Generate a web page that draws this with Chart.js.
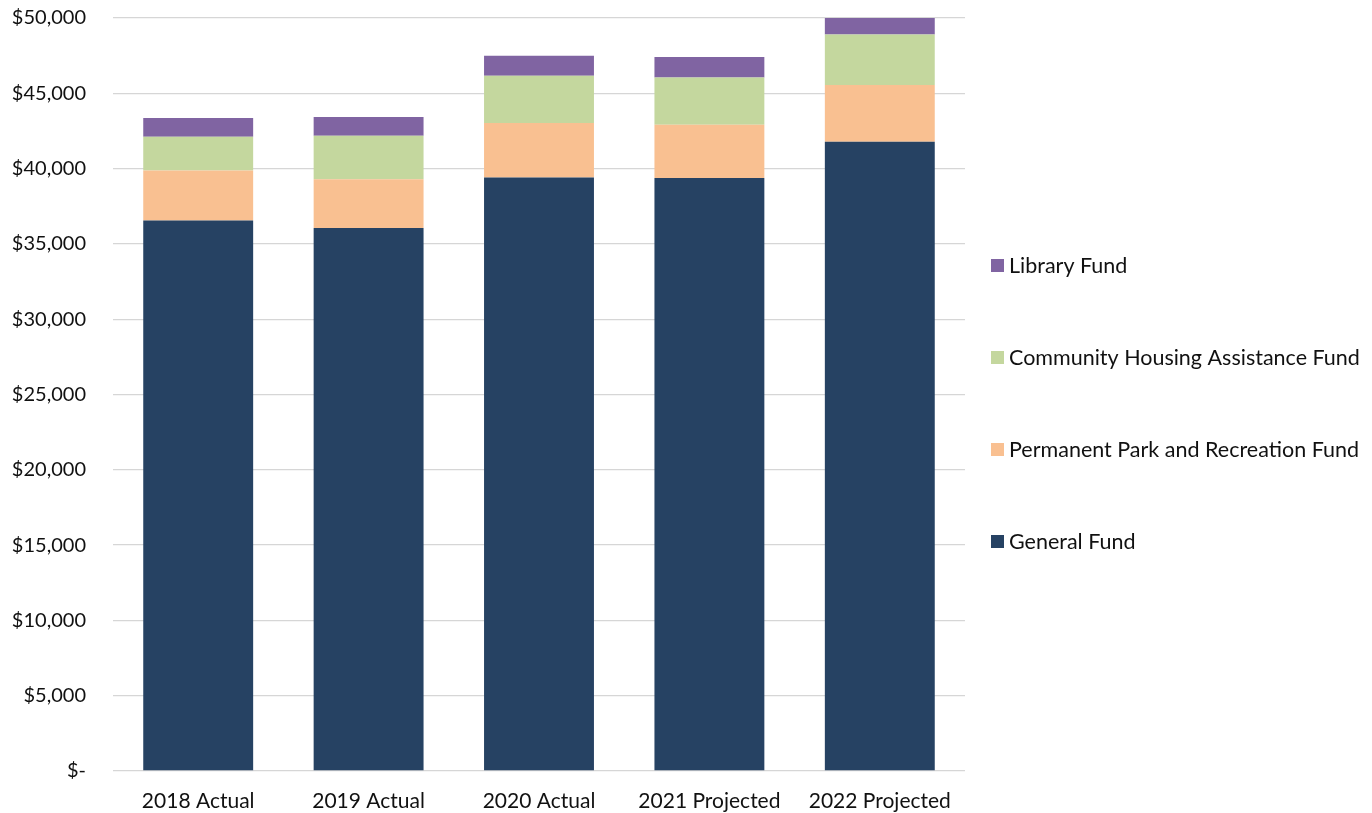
<!DOCTYPE html>
<html>
<head>
<meta charset="utf-8">
<title>Fund Revenue by Year</title>
<script src="https://cdn.jsdelivr.net/npm/chart.js@4"></script>
<style>
    body { margin: 0; background: #fff; }
    #wrap { width: 1372px; height: 813px; }
</style>
</head>
<body>
<div id="wrap"><canvas id="fundChart"></canvas></div>
<script>
/* ==========================================
   DATA
========================================== */

const years = ["2018 Actual", "2019 Actual", "2020 Actual", "2021 Projected", "2022 Projected"];

const generalFund = [36550, 36050, 39410, 39370, 41780];
const parkFund = [3330, 3250, 3610, 3540, 3770];
const housingFund = [2240, 2880, 3150, 3140, 3360];
const libraryFund = [1240, 1240, 1330, 1360, 1090];

const yTicks = [0, 5000, 10000, 15000, 20000, 25000, 30000, 35000, 40000, 45000, 50000];

const FONT = "Lato, 'Open Sans', sans-serif";
const TEXT = "#111";


/* ==========================================
   LEGEND (right side, top series first)
========================================== */

const sideLegend = {
    id: "sideLegend",
    afterDraw(chart) {
        const ctx = chart.ctx;
        const area = chart.chartArea;
        const sets = chart.data.datasets.slice().reverse();
        const middle = (area.top + area.bottom) / 2 + 9;
        const gap = 92;
        const boxX = area.right + 26;

        ctx.save();
        ctx.font = "21.5px " + FONT;
        ctx.textBaseline = "middle";
        ctx.textAlign = "left";

        sets.forEach((ds, i) => {
            const y = middle + (i - (sets.length - 1) / 2) * gap;
            ctx.fillStyle = ds.backgroundColor;
            ctx.fillRect(boxX, y - 6.5, 13, 13);
            ctx.fillStyle = TEXT;
            ctx.fillText(ds.label, boxX + 18, y + 1);
        });

        ctx.restore();
    }
};


/* ==========================================
   STACKED BAR CHART
========================================== */

new Chart(document.getElementById("fundChart"), {

    type: "bar",

    data: {
        labels: years,
        datasets: [
            { label: "General Fund", data: generalFund, backgroundColor: "#264263" },
            { label: "Permanent Park and Recreation Fund", data: parkFund, backgroundColor: "#f9c091" },
            { label: "Community Housing Assistance Fund", data: housingFund, backgroundColor: "#c4d79e" },
            { label: "Library Fund", data: libraryFund, backgroundColor: "#8064a2" }
        ]
    },

    options: {
        responsive: true,
        maintainAspectRatio: false,
        animation: false,

        datasets: {
            bar: {
                barPercentage: 0.645,
                categoryPercentage: 1
            }
        },

        layout: {
            padding: { left: 12, right: 407, top: 18, bottom: 0 }
        },

        plugins: {
            legend: { display: false },
            tooltip: { enabled: false }
        },

        scales: {
            x: {
                stacked: true,
                grid: { display: false },
                border: { display: false },
                ticks: {
                    color: TEXT,
                    padding: 10,
                    font: { family: FONT, size: 21 }
                },
                afterFit(axis) {
                    axis.height = 42;
                }
            },
            y: {
                stacked: true,
                min: 0,
                max: 50000,
                afterBuildTicks(axis) {
                    axis.ticks = yTicks.map(v => ({ value: v }));
                },
                afterFit(axis) {
                    // keep the label gap without the extra inset the tick padding adds
                    axis.width = 101;
                    axis.paddingTop = 12;
                    axis.paddingBottom = 12;
                },
                grid: {
                    color: "#d6d6d6",
                    lineWidth: 1.3,
                    drawTicks: false
                },
                border: { display: false },
                ticks: {
                    color: TEXT,
                    padding: 27,
                    font: { family: FONT, size: 20 },
                    callback: v => v === 0 ? "$-" : "$" + v.toLocaleString("en-US")
                }
            }
        }
    },

    plugins: [sideLegend]
});
</script>
</body>
</html>
